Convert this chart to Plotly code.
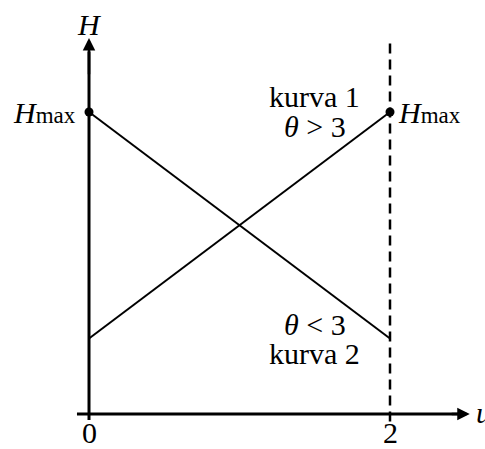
import plotly.graph_objects as go

# Endpoints of the two head curves over the parameter u
u_vals = [0, 2]
kurva1_H = [0.25, 1.0]   # kurva 1, theta > 3 (rising)
kurva2_H = [1.0, 0.25]   # kurva 2, theta < 3 (falling)
h_max = 1.0
u_ticks = [0, 2]
u_tick_labels = ["0", "2"]

FONT = "Liberation Serif"
FS = 30
BLACK = "#000000"

fig = go.Figure()

# u axis (horizontal) and H axis (vertical)
fig.add_shape(type="line", x0=-0.08, x1=2.50, y0=0, y1=0,
              line=dict(color=BLACK, width=3))
fig.add_shape(type="line", x0=0, x1=0, y0=-0.02, y1=1.20,
              line=dict(color=BLACK, width=3))
# arrow heads
fig.add_annotation(x=2.53, y=0, ax=2.40, ay=0, xref="x", yref="y",
                   axref="x", ayref="y", showarrow=True, arrowhead=2,
                   arrowsize=1, arrowwidth=2.5, arrowcolor=BLACK, text="")
fig.add_annotation(x=0, y=1.245, ax=0, ay=1.12, xref="x", yref="y",
                   axref="x", ayref="y", showarrow=True, arrowhead=2,
                   arrowsize=1, arrowwidth=2.5, arrowcolor=BLACK, text="")

# dashed boundary at u = 2
fig.add_shape(type="line", x0=2, x1=2, y0=-0.025, y1=1.24,
              line=dict(color=BLACK, width=2.5, dash="10px,6px"))

# the two curves
fig.add_trace(go.Scatter(x=u_vals, y=kurva1_H, mode="lines",
                         line=dict(color=BLACK, width=2), showlegend=False))
fig.add_trace(go.Scatter(x=u_vals, y=kurva2_H, mode="lines",
                         line=dict(color=BLACK, width=2), showlegend=False))
# H_max points
fig.add_trace(go.Scatter(x=[u_vals[0], u_vals[-1]], y=[h_max, h_max],
                         mode="markers", marker=dict(color=BLACK, size=9),
                         showlegend=False))

def label(x, y, text, xanchor="center", yanchor="middle", size=FS):
    fig.add_annotation(x=x, y=y, xref="x", yref="y", text=text,
                       showarrow=False, xanchor=xanchor, yanchor=yanchor,
                       font=dict(family=FONT, size=size, color=BLACK))

hmax_txt = "<i>H</i><span style='font-size:23px'>max</span>"
label(-0.07, h_max, hmax_txt, xanchor="right")
label(2.04, h_max, hmax_txt, xanchor="left")
label(0, 1.29, "<i>H</i>")
label(2.555, 0.005, "<i>u</i>", xanchor="left")

label(1.5, 1.05, "kurva 1")
label(1.5, 0.952, "<i>θ</i> &gt; 3")
label(1.5, 0.295, "<i>θ</i> &lt; 3")
label(1.5, 0.20, "kurva 2")

for t, s in zip(u_ticks, u_tick_labels):
    label(t, -0.06, s)

fig.update_layout(
    width=485, height=449,
    margin=dict(l=0, r=0, t=0, b=0),
    paper_bgcolor="white", plot_bgcolor="white",
    xaxis=dict(range=[-0.5914, 2.6312], visible=False, fixedrange=True),
    yaxis=dict(range=[-0.1159, 1.3709], visible=False, fixedrange=True),
    showlegend=False,
)

fig.write_html("out.html")
